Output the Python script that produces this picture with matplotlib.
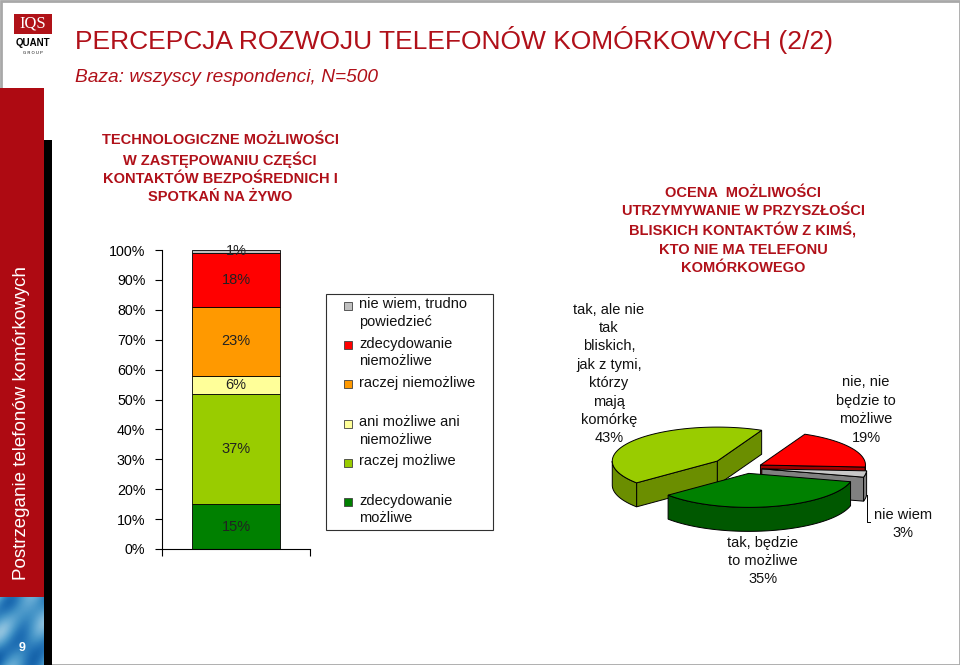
import numpy as np
import matplotlib
matplotlib.use('Agg')
import matplotlib.pyplot as plt
from matplotlib.patches import Rectangle, Polygon

plt.rcParams['font.family'] = ['Liberation Sans', 'DejaVu Sans']

# ---------------- data ----------------
bar_segments = ['zdecydowanie możliwe', 'raczej możliwe', 'ani możliwe ani niemożliwe',
                'raczej niemożliwe', 'zdecydowanie niemożliwe', 'nie wiem, trudno powiedzieć']
bar_values = [15, 37, 6, 23, 18, 1]
bar_colors = ['#008000', '#99CC00', '#FFFF99', '#FF9900', '#FF0000', '#C0C0C0']
legend_labels = ['nie wiem, trudno\npowiedzieć', 'zdecydowanie\nniemożliwe', 'raczej niemożliwe',
                 'ani możliwe ani\nniemożliwe', 'raczej możliwe', 'zdecydowanie\nmożliwe']
y_ticks = [0, 10, 20, 30, 40, 50, 60, 70, 80, 90, 100]
y_tick_labels = ['0%', '10%', '20%', '30%', '40%', '50%', '60%', '70%', '80%', '90%', '100%']

pie_labels = ['tak, ale nie\ntak\nbliskich,\njak z tymi,\nktórzy\nmają\nkomórkę',
              'tak, będzie\nto możliwe', 'nie wiem', 'nie, nie\nbędzie to\nmożliwe']
pie_values = [43, 35, 3, 19]
pie_top_colors = ['#99CC00', '#008000', '#C8C8C8', '#FF0000']
pie_side_colors = ['#6B8E00', '#005800', '#808080', '#A00000']

title = 'PERCEPCJA ROZWOJU TELEFONÓW KOMÓRKOWYCH (2/2)'
subtitle = 'Baza: wszyscy respondenci, N=500'
bar_title = 'TECHNOLOGICZNE MOŻLIWOŚCI\nW ZASTĘPOWANIU CZĘŚCI\nKONTAKTÓW BEZPOŚREDNICH I\nSPOTKAŃ NA ŻYWO'
pie_title = 'OCENA  MOŻLIWOŚCI\nUTRZYMYWANIE W PRZYSZŁOŚCI\nBLISKICH KONTAKTÓW Z KIMŚ,\nKTO NIE MA TELEFONU\nKOMÓRKOWEGO'
side_text = 'Postrzeganie telefonów komórkowych'

DARK_RED = '#B01019'
W, H = 960, 665

fig = plt.figure(figsize=(W / 100, H / 100), dpi=100)

# ---------------- overlay (pixel coords) ----------------
ax0 = fig.add_axes([0, 0, 1, 1])
ax0.set_xlim(0, W)
ax0.set_ylim(H, 0)
ax0.axis('off')

ax0.add_patch(Rectangle((0.5, 0.5), W - 1, H - 1, fill=False, edgecolor='#A8A8A8', lw=2))
ax0.add_patch(Rectangle((0, 88), 44, 509, color='#AE0A12', lw=0))
# blue textured block
gx = np.linspace(0, 1, 44)
gy = np.linspace(0, 1, 68)
GX, GY = np.meshgrid(gx, gy)
tex = (0.62 + 0.12 * np.sin(GX * 4 + GY * 3) * np.cos(GY * 6 - GX * 2)
       + 0.08 * np.sin(GY * 9 + GX * 7) + 0.1 * GY)
ax0.imshow(tex, cmap='Blues', vmin=0.1, vmax=1.0, extent=[0, 44, 665, 597], aspect='auto', zorder=1)
ax0.add_patch(Rectangle((44, 140), 8, 525, color='black', lw=0, zorder=2))
ax0.text(22, 648, '9', color='white', fontsize=9, fontweight='bold', ha='center', va='center', zorder=3)
ax0.text(22, 423, side_text, color='white', fontsize=13.5, rotation=90, ha='center', va='center')

# logo
ax0.add_patch(Rectangle((14, 14), 38, 20, color='#B01218', lw=0))
ax0.text(33, 24, 'IQS', color='white', fontsize=12, family='Liberation Serif', ha='center', va='center')
ax0.text(33, 43, 'QUANT', color='black', fontsize=7, fontweight='bold', ha='center', va='center')
ax0.text(33, 53, 'G R O U P', color='black', fontsize=3, ha='center', va='center')

ax0.text(75, 40, title, color=DARK_RED, fontsize=19, ha='left', va='center')
ax0.text(75, 78, subtitle, color=DARK_RED, fontsize=13.8, style='italic', ha='left', va='center')

ax0.text(220, 133, bar_title, color=DARK_RED, fontsize=10.5, fontweight='bold', ha='center', va='top',
         linespacing=1.36)
ax0.text(743, 186, pie_title, color=DARK_RED, fontsize=10.5, fontweight='bold', ha='center', va='top',
         linespacing=1.36)

# legend (manual)
ax0.add_patch(Rectangle((326, 294), 167, 236, fill=False, edgecolor='#303030', lw=0.8))
leg_colors = bar_colors[::-1]
for i, (lab, col) in enumerate(zip(legend_labels, leg_colors)):
    yc = 306 + i * 39.2
    ax0.add_patch(Rectangle((344, yc - 4), 8, 8, facecolor=col, edgecolor='#404040', lw=0.6))
    ax0.text(359, yc - 8.5, lab, fontsize=10.5, ha='left', va='top', linespacing=1.31, color='#111111')

# ---------------- stacked bar ----------------
axb = fig.add_axes([162 / W, 1 - 549 / H, 148 / W, 299 / H])
axb.patch.set_alpha(0)
bottom = 0
for v, c in zip(bar_values, bar_colors):
    axb.bar(0, v, bottom=bottom, width=1.0, color=c, edgecolor='black', linewidth=0.6)
    axb.text(0, bottom + v / 2, f'{v}%', ha='center', va='center', fontsize=10.5, color='#222222')
    bottom += v
axb.set_xlim(-0.85, 0.85)
axb.set_ylim(0, 100)
axb.set_yticks(y_ticks)
axb.set_yticklabels(y_tick_labels, fontsize=10.3)
axb.set_xticks([-0.85, 0.85])
axb.set_xticklabels(['', ''])
axb.tick_params(axis='both', direction='out', length=5, width=0.8, pad=7)
for s in ['top', 'right']:
    axb.spines[s].set_visible(False)
for s in ['left', 'bottom']:
    axb.spines[s].set_linewidth(0.8)

# ---------------- 3D-like pie ----------------
PCX, PCY = 745, 468          # pixel position of pie centre
axp = fig.add_axes([560 / W, 1 - 620 / H, 400 / W, 340 / H])
axp.set_xlim(560 - PCX, 960 - PCX)
axp.set_ylim(PCY - 620, PCY - 280)
axp.axis('off')
axp.patch.set_alpha(0)

RX, RY, D = 105, 34, 24
explode = [35, 17, 17, 18]
start = 65.0
fracs = np.array(pie_values, float) / np.sum(pie_values)
edges = start + 360 * np.concatenate([[0], np.cumsum(fracs)])


def arc(cx, cy, a, b, dy=0, n=80):
    t = np.radians(np.linspace(a, b, n))
    return np.column_stack([cx + RX * np.cos(t), cy + RY * np.sin(t) + dy])


wedges = []
for i in range(len(pie_values)):
    t1, t2 = edges[i], edges[i + 1]
    mid = np.radians((t1 + t2) / 2)
    cx = explode[i] * np.cos(mid)
    cy = explode[i] * np.sin(mid) * RY / RX
    wedges.append((np.sin(mid), i, t1, t2, cx, cy))

lw = 0.7
for _, i, t1, t2, cx, cy in sorted(wedges, key=lambda w: -w[0]):
    side = pie_side_colors[i]
    # radial faces
    for t, vis in ((t1, np.cos(np.radians(t1)) > 0), (t2, np.cos(np.radians(t2)) < 0)):
        if vis:
            rx_, ry_ = cx + RX * np.cos(np.radians(t)), cy + RY * np.sin(np.radians(t))
            axp.add_patch(Polygon([[cx, cy], [rx_, ry_], [rx_, ry_ - D], [cx, cy - D]],
                                  facecolor=side, edgecolor='black', lw=lw))
    # outer side faces
    for lo, hi in ((-180, 0), (180, 360), (540, 720)):
        a, b = max(t1, lo), min(t2, hi)
        if a < b:
            top = arc(cx, cy, a, b)
            bot = arc(cx, cy, b, a, dy=-D)
            axp.add_patch(Polygon(np.vstack([top, bot]), facecolor=side, edgecolor='black', lw=lw))
    # top face
    pts = np.vstack([[cx, cy], arc(cx, cy, t1, t2)])
    axp.add_patch(Polygon(pts, facecolor=pie_top_colors[i], edgecolor='black', lw=lw))

# pie labels (pixel layout positions)
label_pos = [(609, 374), (763, 561), (903, 524), (866, 410)]
for i, (lab, (px, py)) in enumerate(zip(pie_labels, label_pos)):
    axp.text(px - PCX, PCY - py, f'{lab}\n{pie_values[i]}%', ha='center', va='center',
             fontsize=10.5, linespacing=1.4, color='#111111')

# leader line for "nie wiem"
_, gi, gt1, gt2, gcx, gcy = [w for w in wedges if w[1] == 2][0]
gx_ = gcx + RX * np.cos(np.radians(gt2))
gy_ = gcy + RY * np.sin(np.radians(gt2)) - D
ly = PCY - 522
axp.plot([gx_, gx_, 870 - PCX], [gy_, ly, ly], color='black', lw=0.7)

fig.savefig('out.png', dpi=100)
